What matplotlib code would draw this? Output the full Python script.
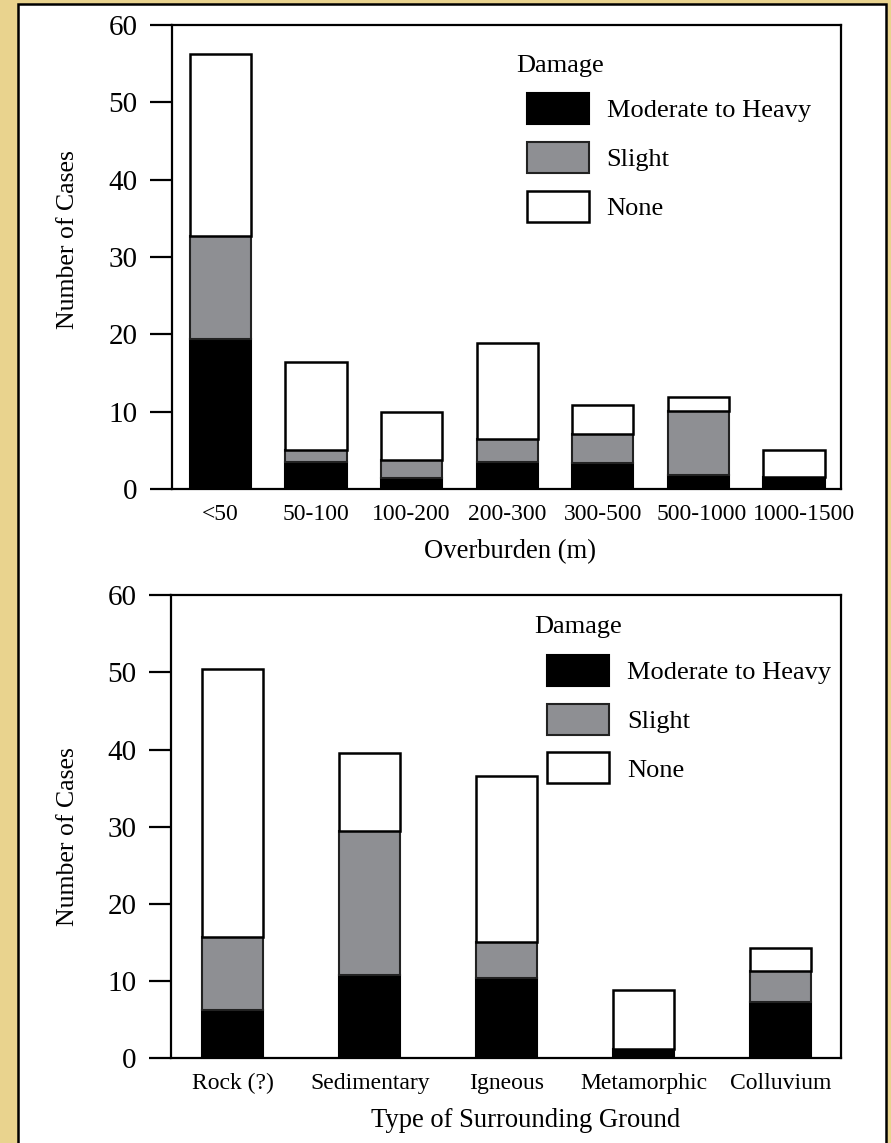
import matplotlib
matplotlib.use("Agg")
import matplotlib.pyplot as plt
import matplotlib.transforms as mtransforms
from matplotlib.patches import Rectangle, Patch

plt.rcParams['font.family'] = ['Liberation Serif', 'DejaVu Serif']

# Top chart: overburden depth
depth_labels = ["<50", "50-100", "100-200", "200-300", "300-500", "500-1000", "1000-1500"]
depth_heavy = [19.4, 3.5, 1.4, 3.5, 3.4, 1.8, 1.6]
depth_slight = [13.3, 1.6, 2.4, 3.0, 3.7, 8.3, 0.0]
depth_none = [23.6, 11.3, 6.15, 12.4, 3.8, 1.8, 3.5]

# Bottom chart: type of surrounding ground
ground_labels = ["Rock (?)", "Sedimentary", "Igneous", "Metamorphic", "Colluvium"]
ground_heavy = [6.2, 10.8, 10.35, 1.2, 7.3]
ground_slight = [9.5, 18.6, 4.75, 0.0, 4.0]
ground_none = [34.7, 10.2, 21.5, 7.6, 2.9]

tan = "#E9D38E"
gray = "#8E8F93"

fig = plt.figure(figsize=(8.91, 11.43), dpi=100, facecolor=tan)
# white panel with black frame, kept behind the axes
fig.add_artist(Rectangle((17.5 / 891, -0.01), (886 - 17.5) / 891, 1.01 - 3.5 / 1143,
                         transform=fig.transFigure, facecolor="white",
                         edgecolor="black", linewidth=1.8, zorder=-10))

ax1 = fig.add_axes([172 / 891, 1 - 489 / 1143, (841 - 172) / 891, (489 - 25) / 1143])
ax2 = fig.add_axes([171 / 891, 1 - 1058 / 1143, (841 - 171) / 891, (1058 - 595.3) / 1143])


def stacked(ax, labels, heavy, slight, none, width, xlim, xlabel,
            ylabel_pos, xlabel_x, title_pos, legend_pos):
    x = list(range(len(labels)))
    bottom2 = [h for h in heavy]
    bottom3 = [h + s for h, s in zip(heavy, slight)]
    ax.set_facecolor("none")
    ax.bar(x, heavy, width, color="black", edgecolor="black", linewidth=1.5)
    ax.bar(x, slight, width, bottom=bottom2, color=gray, edgecolor="#222222", linewidth=1.5)
    ax.bar(x, none, width, bottom=bottom3, color="white", edgecolor="black", linewidth=1.8)
    ax.set_xlim(*xlim)
    ax.set_ylim(0, 60)
    ax.set_yticks([0, 10, 20, 30, 40, 50, 60])
    ax.set_xticks(x)
    ax.set_xticklabels(labels)
    ax.tick_params(axis="y", direction="out", length=16, width=1.6, pad=9, labelsize=21)
    ax.tick_params(axis="x", length=0, pad=11, labelsize=17)
    for sp in ax.spines.values():
        sp.set_linewidth(1.6)
    ax.set_ylabel("Number of Cases", fontsize=18.5)
    ax.yaxis.set_label_coords(*ylabel_pos)
    ax.set_xlabel(xlabel, fontsize=19.2, labelpad=10)
    ax.xaxis.label.set_x(xlabel_x)
    ax.text(title_pos[0], title_pos[1], "Damage", transform=ax.transAxes,
            fontsize=19, ha="left", va="baseline")
    handles = [Patch(facecolor="black", edgecolor="black", linewidth=1.5),
               Patch(facecolor=gray, edgecolor="#222222", linewidth=1.5),
               Patch(facecolor="white", edgecolor="black", linewidth=1.8)]
    ax.legend(handles, ["Moderate to Heavy", "Slight", "None"],
              loc="upper left", bbox_to_anchor=legend_pos, frameon=False,
              fontsize=19, handlelength=2.35, handleheight=1.43, handletextpad=0.68,
              labelspacing=0.67, borderpad=0, borderaxespad=0)


stacked(ax1, depth_labels, depth_heavy, depth_slight, depth_none, 0.64,
        (-0.507, 6.492), "Overburden (m)", (-0.139, 0.537), 0.505,
        (0.515, 0.899), (0.530, 0.853))
stacked(ax2, ground_labels, ground_heavy, ground_slight, ground_none, 0.445,
        (-0.451, 4.441), "Type of Surrounding Ground", (-0.137, 0.478), 0.53,
        (0.542, 0.9185), (0.561, 0.871))

# the two widest depth labels sit a little to the right in the original
for lab, dx in zip(ax1.get_xticklabels()[-2:], [3, 10]):
    lab.set_transform(lab.get_transform() +
                      mtransforms.ScaledTranslation(dx / 100, 0, fig.dpi_scale_trans))

fig.savefig("out.png", dpi=100, facecolor=tan)
